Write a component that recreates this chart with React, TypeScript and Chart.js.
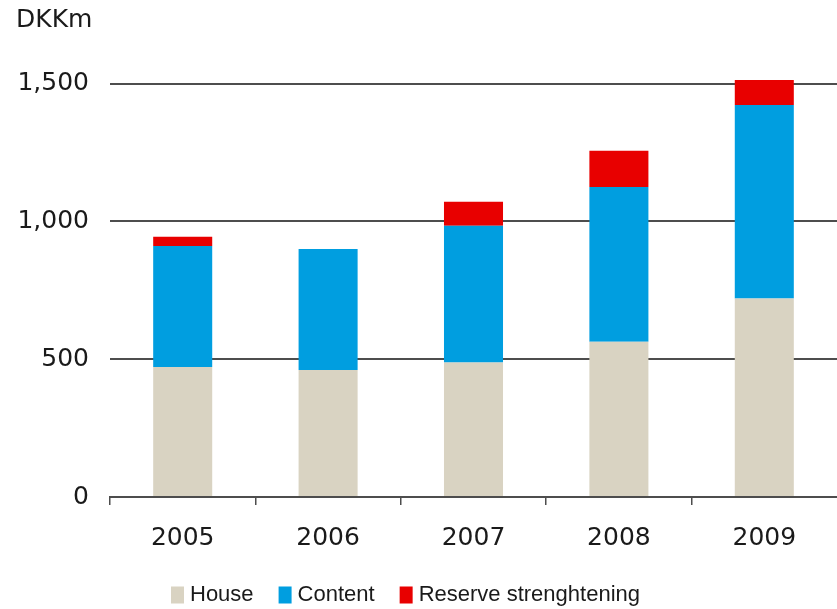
import { useEffect, useRef } from 'react';
import { Chart, registerables } from 'chart.js';

Chart.register(...registerables);

const years = ['2005', '2006', '2007', '2008', '2009'];
const house = [472, 461, 488, 563, 720];
const content = [439, 439, 496, 562, 702];
const reserve = [33, 0, 87, 131, 91];
const yTickValues = [0, 500, 1000, 1500];
const unitLabel = 'DKKm';
const seriesNames = ['House', 'Content', 'Reserve strenghtening'];
const seriesColors = ['#D9D3C2', '#009EE0', '#E80000'];

const FONT = 'DejaVu Sans';
const LEGEND_FONT = 'Liberation Sans';
const TEXT = '#1a1a1a';
const LINE = '#4d4d4d';

export default function App() {
  const ref = useRef<HTMLCanvasElement>(null);

  useEffect(() => {
    if (!ref.current) return;
    const shiftLegend = {
      id: 'shiftLegend',
      afterLayout(chart: any) {
        const l = chart.legend;
        if (l) {
          l.left -= 18.5;
          l.right -= 18.5;
        }
      },
    };
    const chart = new Chart(ref.current, {
      type: 'bar',
      data: {
        labels: years,
        datasets: [house, content, reserve].map((d, i) => ({
          label: seriesNames[i],
          data: d,
          backgroundColor: seriesColors[i],
          borderWidth: 0,
          categoryPercentage: 1,
          barPercentage: 0.406,
        })),
      },
      options: {
        responsive: false,
        animation: false,
        devicePixelRatio: 1,
        layout: { padding: { left: 16, right: 0, top: 0, bottom: -7 } },
        plugins: {
          tooltip: { enabled: false },
          title: {
            display: true,
            text: unitLabel,
            align: 'start',
            color: TEXT,
            font: { family: FONT, size: 25, weight: 'normal' },
            padding: { top: 5, bottom: 21 },
          },
          legend: {
            position: 'bottom',
            labels: {
              boxWidth: 3,
              boxHeight: 7,
              padding: 30,
              color: TEXT,
              font: { family: LEGEND_FONT, size: 22 },
              generateLabels: (c: any) =>
                c.data.datasets.map((ds: any, i: number) => ({
                  text: ds.label,
                  fillStyle: ds.backgroundColor,
                  strokeStyle: ds.backgroundColor,
                  lineWidth: 10,
                  lineJoin: 'miter',
                  hidden: false,
                  datasetIndex: i,
                  fontColor: TEXT,
                })),
            },
          },
        },
        scales: {
          x: {
            stacked: true,
            grid: {
              offset: true,
              drawOnChartArea: false,
              drawTicks: true,
              tickLength: 8,
              color: (c: any) => (c && c.tick ? LINE : 'rgba(0,0,0,0)'),
              lineWidth: 1.5,
            },
            border: { display: true, color: LINE, width: 2 },
            ticks: { color: TEXT, font: { family: FONT, size: 25 }, padding: 18 },
            afterFit: (s: any) => {
              s.height = 57;
            },
          },
          y: {
            stacked: true,
            min: 0,
            max: 1600,
            afterBuildTicks: (s: any) => {
              s.ticks = yTickValues.map((v) => ({ value: v }));
            },
            grid: { drawTicks: false, color: LINE, lineWidth: 2 },
            border: { display: false },
            ticks: {
              color: TEXT,
              font: { family: FONT, size: 25 },
              padding: 21,
              callback: (v: any) => Number(v).toLocaleString('en-US'),
            },
            afterFit: (s: any) => {
              s.width = 94;
            },
          },
        },
      },
      plugins: [shiftLegend],
    } as any);
    return () => chart.destroy();
  }, []);

  return (
    <div style={{ position: 'fixed', left: 0, top: 0, width: 837, height: 609, background: '#fff' }}>
      <canvas ref={ref} width={837} height={609} style={{ display: 'block' }} />
    </div>
  );
}
